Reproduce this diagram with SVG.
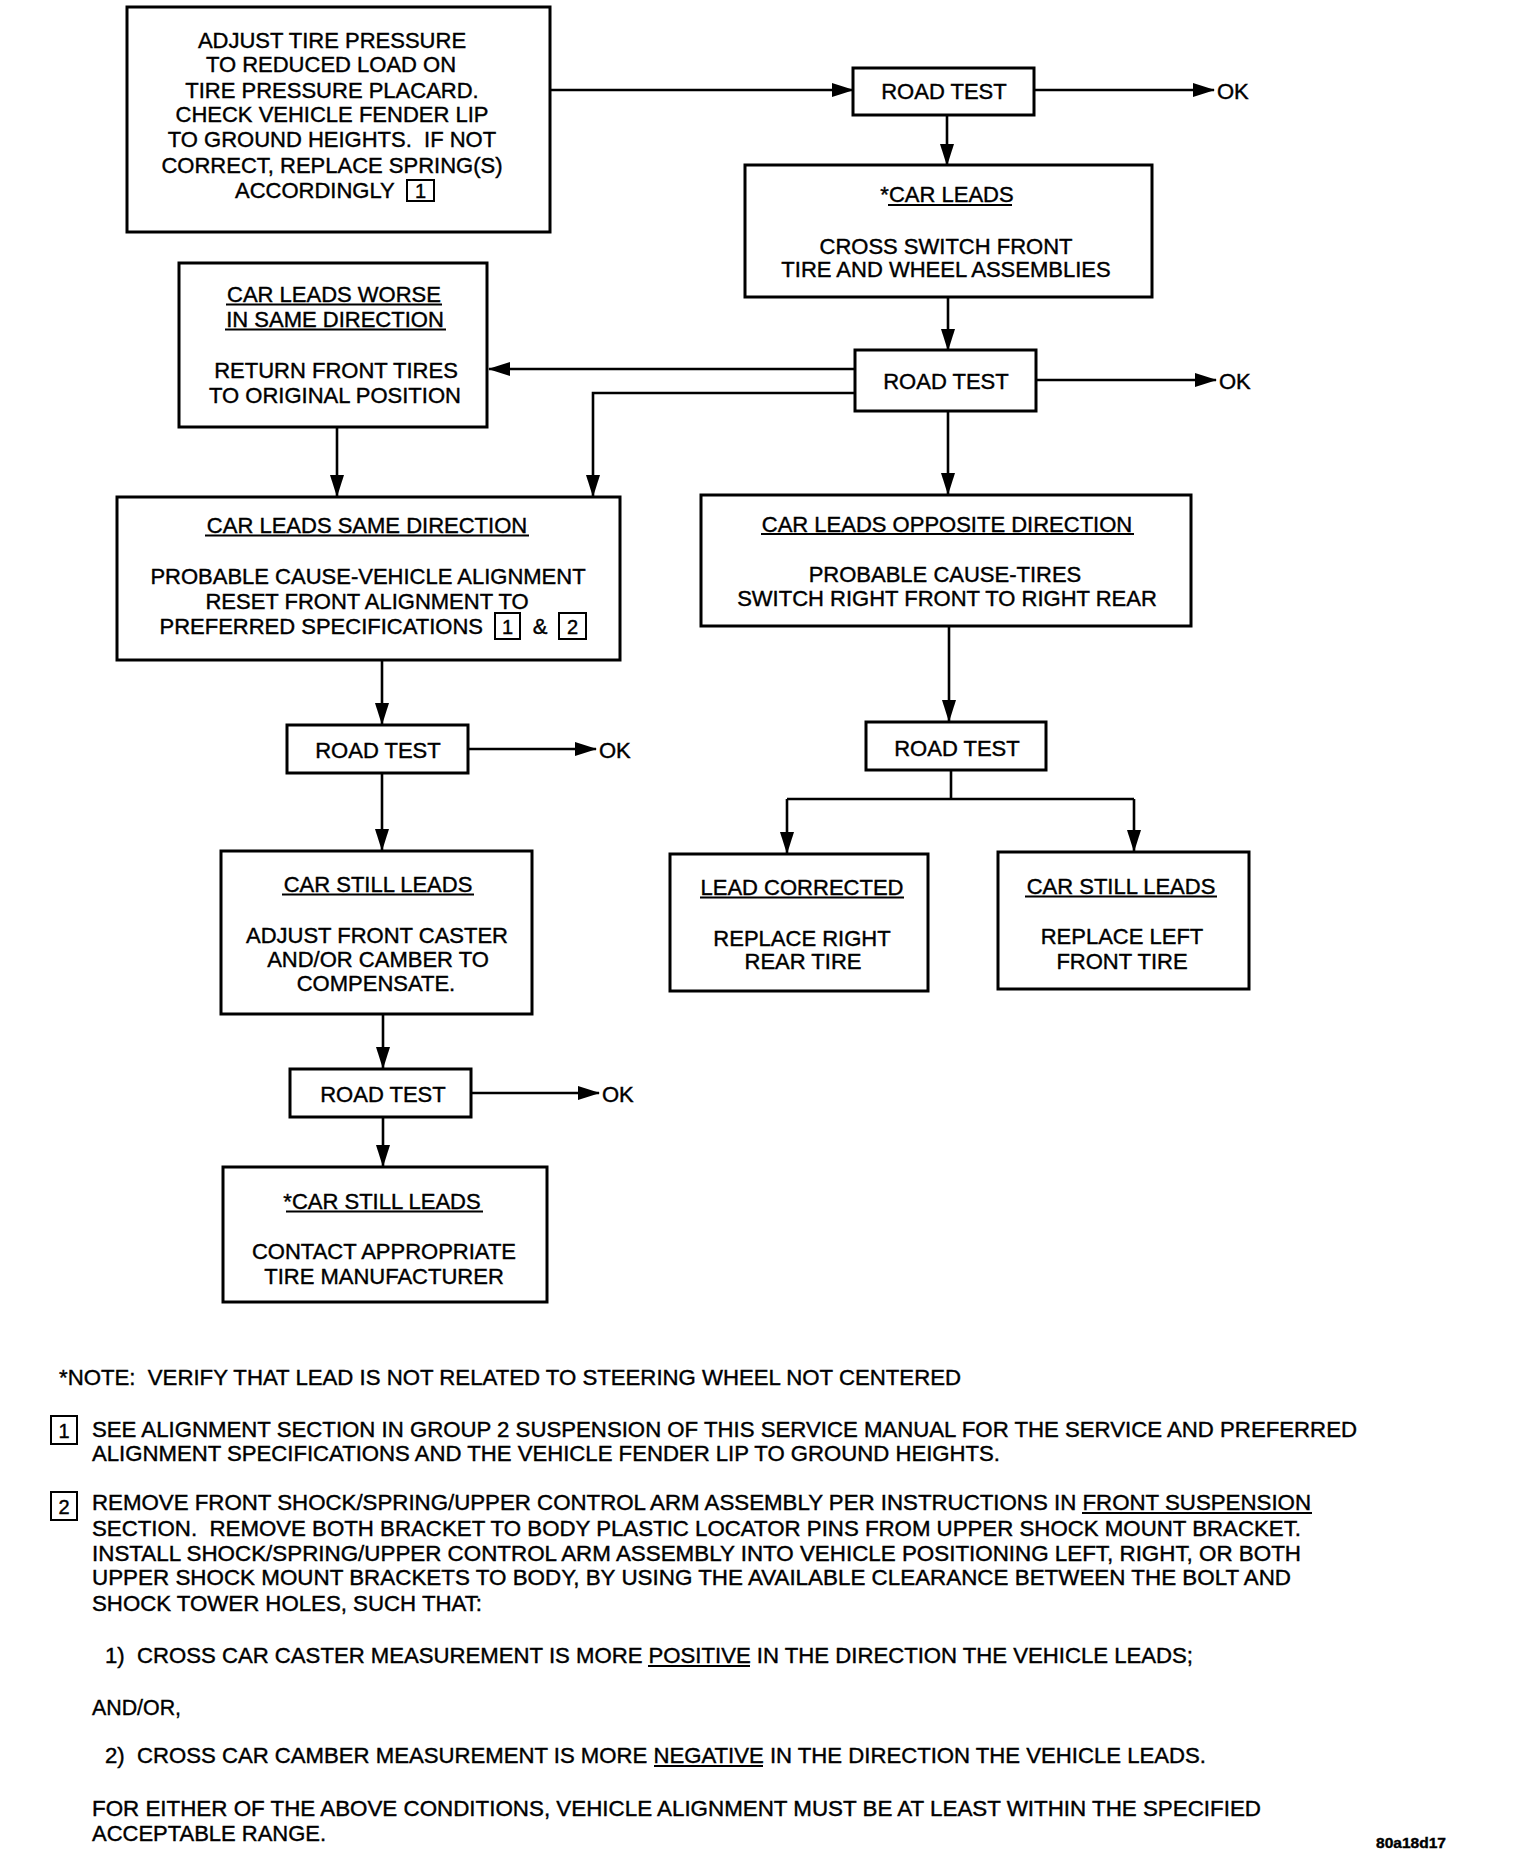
<svg xmlns="http://www.w3.org/2000/svg" width="1536" height="1858" viewBox="0 0 1536 1858">
<style>
.bx{fill:#fff;stroke:#000;stroke-width:3}
.nb{fill:none;stroke:#000;stroke-width:2}
.t{font-family:"Liberation Sans",Arial,sans-serif;font-size:22px;fill:#000;text-anchor:middle;stroke:#000;stroke-width:0.4}
.s{text-anchor:start}
.e{text-anchor:end}
.n{font-size:20px}
.c{fill:none;stroke:#000;stroke-width:2.6}
.u{stroke:#000;stroke-width:2}
</style>
<defs>
<marker id="ah" markerUnits="userSpaceOnUse" markerWidth="22" markerHeight="14" refX="21" refY="7" orient="auto">
<path d="M0,0 L22,7 L0,14 z" fill="#000"/>
</marker>
</defs>
<rect width="1536" height="1858" fill="#fff"/>

<g id="connectors">
<path class="c" d="M550,90 H853" marker-end="url(#ah)"/>
<path class="c" d="M1034,90 H1214" marker-end="url(#ah)"/>
<path class="c" d="M947,115 V165" marker-end="url(#ah)"/>
<path class="c" d="M948,297 V350" marker-end="url(#ah)"/>
<path class="c" d="M1036,380 H1216" marker-end="url(#ah)"/>
<path class="c" d="M855,369 H489" marker-end="url(#ah)"/>
<path class="c" d="M855,393 H593 V496" marker-end="url(#ah)"/>
<path class="c" d="M337,427 V496" marker-end="url(#ah)"/>
<path class="c" d="M948,411 V494" marker-end="url(#ah)"/>
<path class="c" d="M382,660 V724" marker-end="url(#ah)"/>
<path class="c" d="M468,749 H596" marker-end="url(#ah)"/>
<path class="c" d="M382,773 V850" marker-end="url(#ah)"/>
<path class="c" d="M383,1014 V1068" marker-end="url(#ah)"/>
<path class="c" d="M471,1093 H599" marker-end="url(#ah)"/>
<path class="c" d="M383,1117 V1166" marker-end="url(#ah)"/>
<path class="c" d="M949,626 V721" marker-end="url(#ah)"/>
<path class="c" d="M951,770 V799"/>
<path class="c" d="M787,799 H1134"/>
<path class="c" d="M787,799 V853" marker-end="url(#ah)"/>
<path class="c" d="M1134,799 V851" marker-end="url(#ah)"/>
<text class="t s" x="1217" y="98.5">OK</text>
<text class="t s" x="1219" y="388.5">OK</text>
<text class="t s" x="599" y="757.5">OK</text>
<text class="t s" x="602" y="1101.5">OK</text>
</g>

<g id="adjust-tire-pressure">
<rect class="bx" x="127" y="7" width="423" height="225"/>
<text class="t" x="332" y="47.5">ADJUST TIRE PRESSURE</text>
<text class="t" x="331" y="71.5">TO REDUCED LOAD ON</text>
<text class="t" x="332" y="97.5">TIRE PRESSURE PLACARD.</text>
<text class="t" x="332" y="121.5">CHECK VEHICLE FENDER LIP</text>
<text class="t" x="332" y="146.5" xml:space="preserve">TO GROUND HEIGHTS.  IF NOT</text>
<text class="t" x="332" y="172.5">CORRECT, REPLACE SPRING(S)</text>
<text class="t s" x="235" y="197.5">ACCORDINGLY</text>
<rect class="nb" x="407" y="180" width="27" height="21"/>
<text class="t n" x="420.5" y="197.5">1</text>
</g>

<g id="road-test-1">
<rect class="bx" x="853" y="68" width="181" height="47"/>
<text class="t" x="944" y="98.5">ROAD TEST</text>
</g>

<g id="car-leads">
<rect class="bx" x="745" y="165" width="407" height="132"/>
<text class="t" x="947" y="201.5">*CAR LEADS</text>
<line class="u" x1="888" y1="205" x2="1012" y2="205"/>
<text class="t" x="946" y="253.5">CROSS SWITCH FRONT</text>
<text class="t" x="946" y="276.5">TIRE AND WHEEL ASSEMBLIES</text>
</g>

<g id="road-test-2">
<rect class="bx" x="855" y="350" width="181" height="61"/>
<text class="t" x="946" y="388.5">ROAD TEST</text>
</g>

<g id="car-leads-worse">
<rect class="bx" x="179" y="263" width="308" height="164"/>
<text class="t" x="334" y="301.5">CAR LEADS WORSE</text>
<line class="u" x1="226" y1="304.5" x2="442" y2="304.5"/>
<text class="t" x="335" y="326.5">IN SAME DIRECTION</text>
<line class="u" x1="225" y1="329.5" x2="446" y2="329.5"/>
<text class="t" x="336" y="377.5">RETURN FRONT TIRES</text>
<text class="t" x="335" y="402.5">TO ORIGINAL POSITION</text>
</g>

<g id="car-leads-same-direction">
<rect class="bx" x="117" y="497" width="503" height="163"/>
<text class="t" x="367" y="533">CAR LEADS SAME DIRECTION</text>
<line class="u" x1="205" y1="535.5" x2="529" y2="535.5"/>
<text class="t" x="368" y="583.5">PROBABLE CAUSE-VEHICLE ALIGNMENT</text>
<text class="t" x="367" y="608.5">RESET FRONT ALIGNMENT TO</text>
<text class="t e" x="483" y="633.5">PREFERRED SPECIFICATIONS</text>
<rect class="nb" x="495" y="613" width="25" height="26"/>
<text class="t n" x="507.5" y="633.5">1</text>
<text class="t" x="540" y="633.5">&amp;</text>
<rect class="nb" x="559" y="613" width="27" height="26"/>
<text class="t n" x="572.5" y="633.5">2</text>
</g>

<g id="car-leads-opposite-direction">
<rect class="bx" x="701" y="495" width="490" height="131"/>
<text class="t" x="947" y="531.5">CAR LEADS OPPOSITE DIRECTION</text>
<line class="u" x1="761" y1="534" x2="1134" y2="534"/>
<text class="t" x="945" y="581.5">PROBABLE CAUSE-TIRES</text>
<text class="t" x="947" y="605.5">SWITCH RIGHT FRONT TO RIGHT REAR</text>
</g>

<g id="road-test-3">
<rect class="bx" x="287" y="725" width="181" height="48"/>
<text class="t" x="378" y="757.5">ROAD TEST</text>
</g>

<g id="road-test-5">
<rect class="bx" x="866" y="722" width="180" height="48"/>
<text class="t" x="957" y="755.5">ROAD TEST</text>
</g>

<g id="car-still-leads-left">
<rect class="bx" x="221" y="851" width="311" height="163"/>
<text class="t" x="378" y="891.5">CAR STILL LEADS</text>
<line class="u" x1="282" y1="894.5" x2="474" y2="894.5"/>
<text class="t" x="377" y="942.5">ADJUST FRONT CASTER</text>
<text class="t" x="378" y="966.5">AND/OR CAMBER TO</text>
<text class="t" x="376" y="990.5">COMPENSATE.</text>
</g>

<g id="lead-corrected">
<rect class="bx" x="670" y="854" width="258" height="137"/>
<text class="t" x="802" y="894.5">LEAD CORRECTED</text>
<line class="u" x1="700" y1="897.5" x2="904" y2="897.5"/>
<text class="t" x="802" y="945.5">REPLACE RIGHT</text>
<text class="t" x="803" y="968.5">REAR TIRE</text>
</g>

<g id="car-still-leads-right">
<rect class="bx" x="998" y="852" width="251" height="137"/>
<text class="t" x="1121" y="893.5">CAR STILL LEADS</text>
<line class="u" x1="1025" y1="896.5" x2="1217" y2="896.5"/>
<text class="t" x="1122" y="943.5">REPLACE LEFT</text>
<text class="t" x="1122" y="968.5">FRONT TIRE</text>
</g>

<g id="road-test-4">
<rect class="bx" x="290" y="1069" width="181" height="48"/>
<text class="t" x="383" y="1101.5">ROAD TEST</text>
</g>

<g id="contact-manufacturer">
<rect class="bx" x="223" y="1167" width="324" height="135"/>
<text class="t" x="382" y="1208.5">*CAR STILL LEADS</text>
<line class="u" x1="286" y1="1211.5" x2="483" y2="1211.5"/>
<text class="t" x="384" y="1258.5">CONTACT APPROPRIATE</text>
<text class="t" x="384" y="1283.5">TIRE MANUFACTURER</text>
</g>

<g id="notes">
<text class="t s" x="59" y="1385" textLength="902" lengthAdjust="spacingAndGlyphs" xml:space="preserve">*NOTE:  VERIFY THAT LEAD IS NOT RELATED TO STEERING WHEEL NOT CENTERED</text>
<rect class="nb" x="51" y="1416" width="26" height="28"/>
<text class="t n" x="64" y="1438">1</text>
<text class="t s" x="92" y="1437" textLength="1265" lengthAdjust="spacingAndGlyphs">SEE ALIGNMENT SECTION IN GROUP 2 SUSPENSION OF THIS SERVICE MANUAL FOR THE SERVICE AND PREFERRED</text>
<text class="t s" x="92" y="1461" textLength="908" lengthAdjust="spacingAndGlyphs">ALIGNMENT SPECIFICATIONS AND THE VEHICLE FENDER LIP TO GROUND HEIGHTS.</text>
<rect class="nb" x="51" y="1492" width="26" height="28"/>
<text class="t n" x="64" y="1514">2</text>
<text class="t s" x="92" y="1510" textLength="1219" lengthAdjust="spacingAndGlyphs">REMOVE FRONT SHOCK/SPRING/UPPER CONTROL ARM ASSEMBLY PER INSTRUCTIONS IN FRONT SUSPENSION</text>
<line class="u" x1="1082" y1="1513" x2="1312" y2="1513"/>
<text class="t s" x="92" y="1536" textLength="1209" lengthAdjust="spacingAndGlyphs" xml:space="preserve">SECTION.  REMOVE BOTH BRACKET TO BODY PLASTIC LOCATOR PINS FROM UPPER SHOCK MOUNT BRACKET.</text>
<text class="t s" x="92" y="1561" textLength="1209" lengthAdjust="spacingAndGlyphs">INSTALL SHOCK/SPRING/UPPER CONTROL ARM ASSEMBLY INTO VEHICLE POSITIONING LEFT, RIGHT, OR BOTH</text>
<text class="t s" x="92" y="1585" textLength="1199" lengthAdjust="spacingAndGlyphs">UPPER SHOCK MOUNT BRACKETS TO BODY, BY USING THE AVAILABLE CLEARANCE BETWEEN THE BOLT AND</text>
<text class="t s" x="92" y="1611" textLength="390" lengthAdjust="spacingAndGlyphs">SHOCK TOWER HOLES, SUCH THAT:</text>
<text class="t s" x="105" y="1663" textLength="1088" lengthAdjust="spacingAndGlyphs" xml:space="preserve">1)  CROSS CAR CASTER MEASUREMENT IS MORE POSITIVE IN THE DIRECTION THE VEHICLE LEADS;</text>
<line class="u" x1="648" y1="1666" x2="750" y2="1666"/>
<text class="t s" x="92" y="1715" textLength="89" lengthAdjust="spacingAndGlyphs">AND/OR,</text>
<text class="t s" x="105" y="1763" textLength="1101" lengthAdjust="spacingAndGlyphs" xml:space="preserve">2)  CROSS CAR CAMBER MEASUREMENT IS MORE NEGATIVE IN THE DIRECTION THE VEHICLE LEADS.</text>
<line class="u" x1="654" y1="1766" x2="763" y2="1766"/>
<text class="t s" x="92" y="1816" textLength="1169" lengthAdjust="spacingAndGlyphs">FOR EITHER OF THE ABOVE CONDITIONS, VEHICLE ALIGNMENT MUST BE AT LEAST WITHIN THE SPECIFIED</text>
<text class="t s" x="92" y="1841" textLength="234" lengthAdjust="spacingAndGlyphs">ACCEPTABLE RANGE.</text>
<text class="t s" x="1376" y="1848" style="font-size:15px;font-weight:bold" textLength="70" lengthAdjust="spacingAndGlyphs">80a18d17</text>
</g>
</svg>
